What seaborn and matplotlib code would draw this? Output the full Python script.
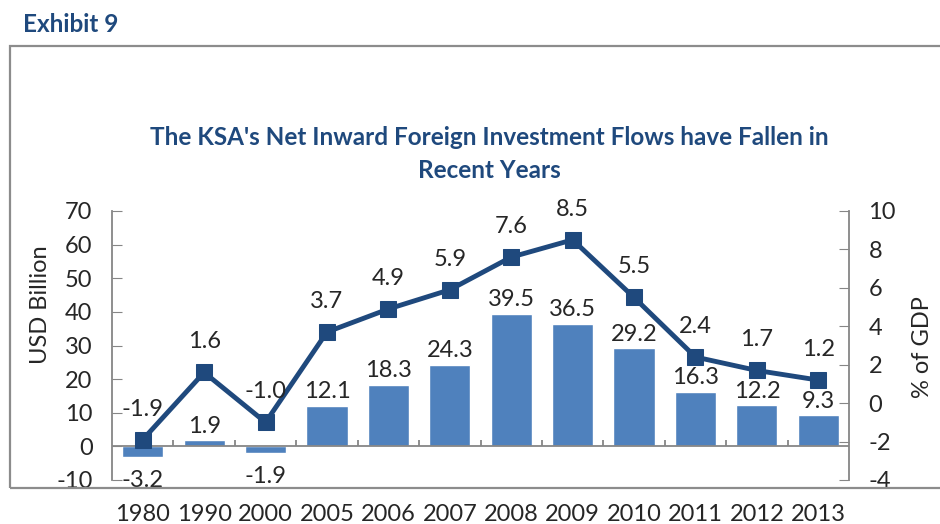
import numpy as np
import pandas as pd
import seaborn as sns
import matplotlib.pyplot as plt
from matplotlib.patches import Rectangle

sns.set_style('white')
plt.rcParams['font.family'] = ['Lato', 'DejaVu Sans']
plt.rcParams['axes.unicode_minus'] = False

years = ['1980', '1990', '2000', '2005', '2006', '2007', '2008', '2009', '2010', '2011', '2012', '2013']
usd_billion = [-3.2, 1.9, -1.9, 12.1, 18.3, 24.3, 39.5, 36.5, 29.2, 16.3, 12.2, 9.3]
pct_gdp = [-1.9, 1.6, -1.0, 3.7, 4.9, 5.9, 7.6, 8.5, 5.5, 2.4, 1.7, 1.2]

df = pd.DataFrame({'Year': years, 'USD': usd_billion, 'GDP': pct_gdp})

bar_col = '#4F81BD'
line_col = '#1F497D'
grey = '#868686'
fs = 17

fig = plt.figure(figsize=(9.4, 5.24), dpi=100)
ax = fig.add_axes([112 / 940, 1 - 480 / 524, 737 / 940, 269 / 524])

sns.barplot(data=df, x='Year', y='USD', color=bar_col, width=0.67, ax=ax, saturation=1)
ax.set_ylim(-10, 70)
ax.set_yticks(np.arange(-10, 71, 10))
ax.set_xlim(-0.5, len(years) - 0.5)
ax.set_xlabel('')
ax.set_ylabel('USD Billion', fontsize=fs)
ax.yaxis.set_label_coords(-0.083, 0.65)
ax.tick_params(axis='y', direction='in', length=7, color=grey, labelsize=fs, pad=14)
ax.tick_params(axis='x', length=0, labelsize=fs, pad=17)

for s in ['top', 'bottom', 'right']:
    ax.spines[s].set_visible(False)
ax.spines['left'].set_color(grey)
ax.spines['left'].set_linewidth(1.3)

# category axis at zero with upward tick marks between categories
ax.axhline(0, color=grey, lw=1.3, zorder=1)
bounds = np.arange(len(years) + 1) - 0.5
ax.vlines(bounds[1:-1], 0, 1.8, color=grey, lw=1.3)

for i, v in enumerate(usd_billion):
    off = 10 if v >= 0 else -17
    ax.annotate(f'{v:.1f}', (i, v), xytext=(0, off), textcoords='offset points',
                ha='center', va='center', fontsize=fs)

ax2 = ax.twinx()
sns.lineplot(x=np.arange(len(years)), y=pct_gdp, color=line_col, lw=3.5,
             marker='s', markersize=11, markeredgecolor=line_col, ax=ax2)
ax2.set_ylim(-4, 10)
ax2.set_yticks(np.arange(-4, 11, 2))
ax2.set_ylabel('% of GDP', fontsize=fs)
ax2.yaxis.set_label_coords(1.085, 0.494)
ax2.tick_params(axis='y', direction='in', length=7, color=grey, labelsize=fs, pad=14)
for s in ['top', 'bottom', 'left']:
    ax2.spines[s].set_visible(False)
ax2.spines['right'].set_color(grey)
ax2.spines['right'].set_linewidth(1.3)

for i, v in enumerate(pct_gdp):
    ax2.annotate(f'{v:.1f}', (i, v), xytext=(0, 22), textcoords='offset points',
                 ha='center', va='center', fontsize=fs)

title_kw = dict(ha='center', va='center', fontsize=17.5, fontweight='bold', color=line_col)
fig.text(0.521, 1 - 138 / 524, "The KSA's Net Inward Foreign Investment Flows have Fallen in", **title_kw)
fig.text(0.521, 1 - 171 / 524, 'Recent Years', **title_kw)
fig.text(23 / 940, 1 - 25 / 524, 'Exhibit 9', ha='left', va='center',
         fontsize=17.5, fontweight='bold', color=line_col)

fig.patches.append(Rectangle((10 / 940, 1 - 488 / 524), 940 / 940, 442 / 524,
                             transform=fig.transFigure, fill=False,
                             edgecolor='#8c8c8c', lw=1.6))

fig.savefig('out.png', dpi=100)
